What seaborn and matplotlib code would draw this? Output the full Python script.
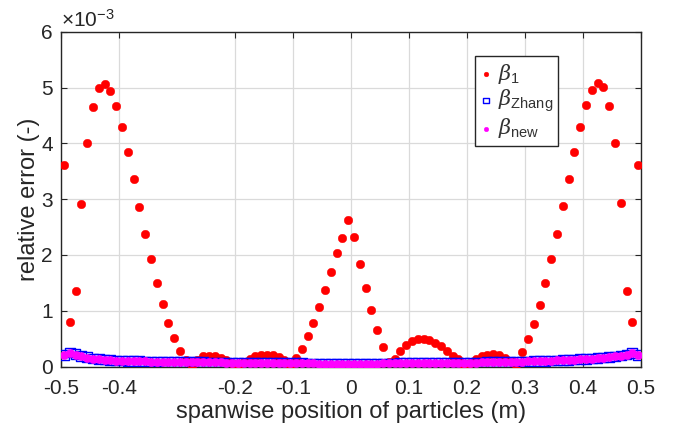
import numpy as np
import pandas as pd
import matplotlib
matplotlib.use("Agg")
import matplotlib.pyplot as plt
import seaborn as sns

# Spanwise particle positions (m), 100 evenly spaced cells
position = np.round(np.arange(-0.495, 0.5, 0.01), 3)

# Relative errors, in units of 1e-3
beta_1 = [
    3.61, 0.79, 1.36, 2.92, 4.00, 4.66, 4.99, 5.07, 4.94, 4.67,
    4.29, 3.85, 3.36, 2.86, 2.38, 1.92, 1.50, 1.12, 0.78, 0.51,
    0.27, 0.12, 0.00, 0.12, 0.18, 0.19, 0.19, 0.16, 0.12, 0.06,
    0.00, 0.08, 0.14, 0.19, 0.20, 0.21, 0.20, 0.17, 0.11, 0.00,
    0.15, 0.32, 0.54, 0.78, 1.07, 1.38, 1.70, 2.03, 2.30, 2.62,
    2.32, 1.84, 1.41, 1.02, 0.66, 0.35, 0.08, 0.13, 0.27, 0.38,
    0.46, 0.49, 0.50, 0.47, 0.42, 0.36, 0.28, 0.19, 0.13, 0.00,
    0.06, 0.13, 0.18, 0.21, 0.22, 0.20, 0.16, 0.09, 0.03, 0.26,
    0.49, 0.77, 1.11, 1.49, 1.92, 2.38, 2.87, 3.37, 3.85, 4.30,
    4.69, 4.96, 5.09, 5.01, 4.67, 4.01, 2.93, 1.36, 0.79, 3.61,
]

beta_zhang = [
    0.21, 0.25, 0.22, 0.19, 0.165, 0.145, 0.135, 0.125, 0.115, 0.11,
    0.105, 0.10, 0.098, 0.094, 0.092, 0.09, 0.088, 0.085, 0.083, 0.082,
    0.080, 0.079, 0.078, 0.077, 0.076, 0.075, 0.074, 0.073, 0.072, 0.071,
    0.071, 0.070, 0.069, 0.068, 0.067, 0.066, 0.065, 0.064, 0.063, 0.062,
    0.061, 0.059, 0.057, 0.056, 0.054, 0.053, 0.052, 0.051, 0.051, 0.051,
    0.051, 0.051, 0.052, 0.053, 0.054, 0.055, 0.056, 0.057, 0.058, 0.059,
    0.060, 0.061, 0.062, 0.063, 0.064, 0.065, 0.066, 0.067, 0.068, 0.069,
    0.071, 0.072, 0.074, 0.076, 0.078, 0.080, 0.082, 0.084, 0.086, 0.089,
    0.091, 0.094, 0.097, 0.101, 0.105, 0.109, 0.113, 0.118, 0.123, 0.129,
    0.135, 0.142, 0.150, 0.159, 0.170, 0.182, 0.197, 0.215, 0.245, 0.205,
]

beta_new = [
    0.20, 0.24, 0.21, 0.18, 0.16, 0.14, 0.13, 0.12, 0.11, 0.105,
    0.10, 0.10, 0.095, 0.09, 0.09, 0.088, 0.085, 0.083, 0.08, 0.08,
    0.078, 0.077, 0.076, 0.075, 0.074, 0.073, 0.072, 0.072, 0.071, 0.070,
    0.070, 0.069, 0.068, 0.067, 0.066, 0.065, 0.064, 0.063, 0.062, 0.061,
    0.060, 0.058, 0.056, 0.055, 0.053, 0.052, 0.051, 0.050, 0.050, 0.050,
    0.050, 0.050, 0.051, 0.052, 0.053, 0.054, 0.055, 0.056, 0.057, 0.058,
    0.059, 0.060, 0.061, 0.062, 0.063, 0.064, 0.065, 0.066, 0.067, 0.068,
    0.070, 0.071, 0.073, 0.075, 0.077, 0.079, 0.081, 0.083, 0.085, 0.088,
    0.090, 0.093, 0.096, 0.100, 0.104, 0.108, 0.112, 0.117, 0.122, 0.128,
    0.134, 0.141, 0.149, 0.158, 0.168, 0.180, 0.195, 0.210, 0.240, 0.200,
]

x_ticks = [-0.5, -0.4, -0.2, -0.1, 0, 0.1, 0.2, 0.3, 0.4, 0.5]
x_tick_labels = ["-0.5", "-0.4", "-0.2", "-0.1", "0", "0.1", "0.2", "0.3", "0.4", "0.5"]
y_ticks = [0, 1, 2, 3, 4, 5, 6]

df = pd.DataFrame({
    "position": position,
    "beta_1": beta_1,
    "beta_zhang": beta_zhang,
    "beta_new": beta_new,
})

sns.set_style("ticks")
plt.rcParams["font.family"] = ["Liberation Sans", "DejaVu Sans"]
plt.rcParams["mathtext.fontset"] = "custom"
plt.rcParams["mathtext.rm"] = "Liberation Sans"
plt.rcParams["mathtext.it"] = "DejaVu Serif:italic"
plt.rcParams["axes.unicode_minus"] = False

fig = plt.figure(figsize=(6.78, 4.25), dpi=100)
ax = fig.add_axes([61 / 678, 1 - 366.5 / 425, 580 / 678, 334.5 / 425])

sns.scatterplot(data=df, x="position", y="beta_1", ax=ax, marker="o", s=38,
                color="#ff0000", edgecolor="#ff0000", linewidth=0.3,
                label=r"$\beta_{\mathrm{1}}$", zorder=3)
sns.scatterplot(data=df, x="position", y="beta_zhang", ax=ax, marker="s", s=48,
                color="#0000ff", facecolor="none", edgecolor="#0000ff", linewidth=1.0,
                label=r"$\beta_{\mathrm{Zhang}}$", zorder=4)
sns.scatterplot(data=df, x="position", y="beta_new", ax=ax, marker="o", s=36,
                color="#ff00ff", edgecolor="#ff00ff", linewidth=0.3,
                label=r"$\beta_{\mathrm{new}}$", zorder=5)

ax.set_xlim(-0.5, 0.5)
ax.set_ylim(0, 6)
ax.set_xticks(x_ticks)
ax.set_xticklabels(x_tick_labels)
ax.set_yticks(y_ticks)
ax.set_yticklabels([str(v) for v in y_ticks])

ax.grid(True, color="#dadada", linewidth=0.9)
ax.set_axisbelow(True)
for side in ["top", "right", "left", "bottom"]:
    ax.spines[side].set_visible(True)
    ax.spines[side].set_color("#262626")
    ax.spines[side].set_linewidth(1.0)
ax.tick_params(direction="in", length=4, width=0.8, color="#262626",
               labelsize=15, labelcolor="#262626", top=True, right=True)
ax.tick_params(axis="x", pad=9)
ax.tick_params(axis="y", pad=6)

ax.set_xlabel("spanwise position of particles (m)", fontsize=17, color="#262626", labelpad=2)
ax.set_ylabel("relative error (-)", fontsize=17, color="#262626", labelpad=1)

ax.text(0.0, 1.005, r"$\times$10$^{\mathrm{-3}}$", transform=ax.transAxes,
        ha="left", va="bottom", fontsize=15, color="#262626")

leg = ax.legend(loc="upper right", bbox_to_anchor=(0.857, 0.927), borderaxespad=0,
                fontsize=15, frameon=True, fancybox=False, framealpha=1,
                edgecolor="#262626", borderpad=0.25, handletextpad=0.25,
                labelspacing=0.1, handlelength=0.6, markerscale=0.55)
leg.get_frame().set_linewidth(1.0)
for t in leg.get_texts():
    t.set_color("#333333")

fig.savefig("out.png", dpi=100)
